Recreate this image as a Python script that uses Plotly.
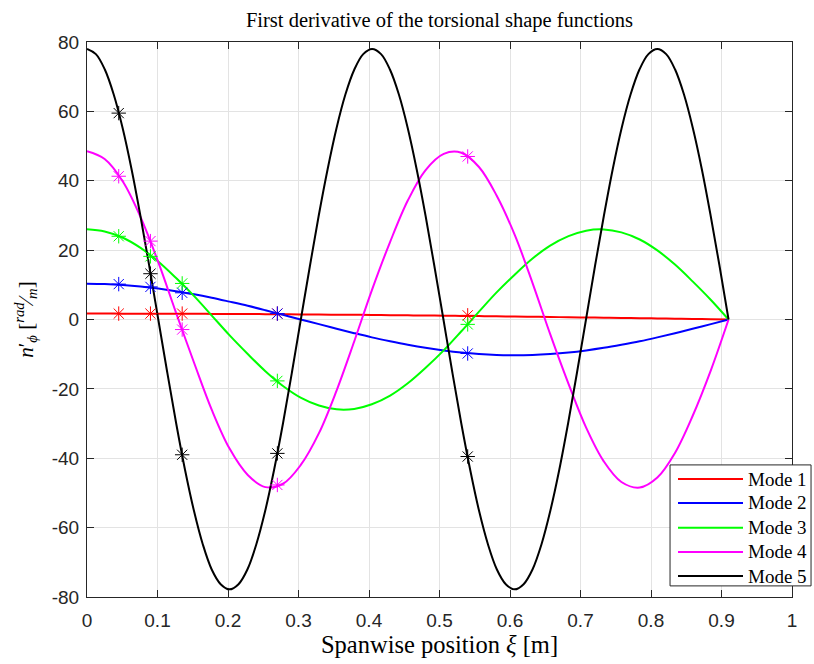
import plotly.graph_objects as go

# Spanwise positions (m) at which modes 1-4 were read
xi = [0, 0.025, 0.051, 0.076, 0.101, 0.126, 0.152, 0.177, 0.202, 0.228, 0.253, 0.278,
      0.303, 0.329, 0.354, 0.379, 0.404, 0.430, 0.455, 0.480, 0.506, 0.531, 0.556, 0.581,
      0.607, 0.632, 0.657, 0.683, 0.708, 0.733, 0.758, 0.784, 0.809, 0.834, 0.859, 0.885, 0.910]

# Finer positions used for the fast-varying mode 5
xi5 = [0, 0.0126, 0.0253, 0.0379, 0.0506, 0.0632, 0.0758, 0.0885, 0.1011, 0.1138, 0.1264, 0.1390,
       0.1517, 0.1643, 0.1769, 0.1896, 0.2022, 0.2149, 0.2275, 0.2401, 0.2528, 0.2654, 0.2781, 0.2907,
       0.3033, 0.3160, 0.3286, 0.3413, 0.3539, 0.3665, 0.3792, 0.3918, 0.4044, 0.4171, 0.4297, 0.4424,
       0.4550, 0.4676, 0.4803, 0.4929, 0.5056, 0.5182, 0.5308, 0.5435, 0.5561, 0.5688, 0.5814, 0.5940,
       0.6067, 0.6193, 0.6319, 0.6446, 0.6572, 0.6699, 0.6825, 0.6951, 0.7078, 0.7204, 0.7331, 0.7457,
       0.7583, 0.7710, 0.7836, 0.7963, 0.8089, 0.8215, 0.8342, 0.8468, 0.8594, 0.8721, 0.8847, 0.8974,
       0.9100]

mode1 = [1.70, 1.70, 1.69, 1.69, 1.67, 1.66, 1.64, 1.62, 1.60, 1.57, 1.54, 1.51,
         1.47, 1.43, 1.39, 1.35, 1.30, 1.25, 1.20, 1.15, 1.09, 1.03, 0.98, 0.91,
         0.85, 0.78, 0.72, 0.65, 0.58, 0.51, 0.44, 0.37, 0.30, 0.22, 0.15, 0.07, 0.0]
mode2 = [10.30, 10.21, 9.95, 9.52, 8.92, 8.17, 7.28, 6.27, 5.15, 3.94, 2.67, 1.34,
         0.0, -1.34, -2.67, -3.94, -5.15, -6.27, -7.28, -8.17, -8.92, -9.52, -9.95, -10.21,
         -10.30, -10.21, -9.95, -9.52, -8.92, -8.17, -7.28, -6.27, -5.15, -3.94, -2.67, -1.34, 0.0]
mode3 = [26.0, 25.38, 23.56, 20.63, 16.71, 12.01, 6.73, 1.13, -4.51, -9.95, -14.91, -19.17,
         -22.52, -24.80, -25.90, -25.78, -24.43, -21.93, -18.38, -13.97, -8.89, -3.39, 2.27, 7.82,
         13.0, 17.57, 21.30, 24.02, 25.61, 25.98, 25.11, 23.06, 19.92, 15.83, 10.99, 5.63, 0.0]
mode4 = [48.5, 46.26, 39.73, 29.52, 16.59, 2.12, -12.55, -26.06, -37.15, -44.81, -48.32, -47.35,
         -42.0, -32.77, -20.50, -6.33, 8.42, 22.39, 34.29, 43.02, 47.76, 48.08, 43.96, 35.76,
         24.25, 10.50, -4.23, -18.56, -31.18, -40.90, -46.85, -48.45, -45.57, -38.48, -27.82, -14.58, 0.0]
mode5 = [78.0, 76.5, 72.06, 64.85, 55.15, 43.33, 29.85, 15.22, 0.0, -15.22, -29.85, -43.33,
         -55.15, -64.85, -72.06, -76.3, -77.8, -76.3, -72.06, -64.85, -55.15, -43.33, -29.85, -15.22,
         0.0, 15.22, 29.85, 43.33, 55.15, 64.85, 72.06, 76.5, 78.0, 76.5, 72.06, 64.85,
         55.15, 43.33, 29.85, 15.22, 0.0, -15.22, -29.85, -43.33, -55.15, -64.85, -72.06, -76.3,
         -77.8, -76.3, -72.06, -64.85, -55.15, -43.33, -29.85, -15.22, 0.0, 15.22, 29.85, 43.33,
         55.15, 64.85, 72.06, 76.5, 78.0, 76.5, 72.06, 64.85, 55.15, 43.33, 29.85, 15.22,
         0.0]

# Measurement points (asterisks)
xi_pts = [0.045, 0.09, 0.135, 0.27, 0.54]
pts1 = [1.7, 1.7, 1.7, 1.7, 1.2]
pts2 = [10.2, 9.4, 7.7, 1.7, -9.8]
pts3 = [24.0, 18.2, 10.4, -17.7, -1.4]
pts4 = [41.3, 22.6, -2.9, -47.7, 47.0]
pts5 = [59.5, 13.2, -39.0, -38.6, -39.5]

names = ["Mode 1", "Mode 2", "Mode 3", "Mode 4", "Mode 5"]
colors = ["#ff0000", "#0000ff", "#00ff00", "#ff00ff", "#000000"]
xs = [xi, xi, xi, xi, xi5]
curves = [mode1, mode2, mode3, mode4, mode5]
points = [pts1, pts2, pts3, pts4, pts5]

fig = go.Figure()
for name, col, xx, ys in zip(names, colors, xs, curves):
    fig.add_trace(go.Scatter(x=xx, y=ys, mode="lines", name=name, showlegend=False,
                             line=dict(color=col, width=2, shape="spline", smoothing=1.0)))
for name, col, ys in zip(names, colors, points):
    fig.add_trace(go.Scatter(x=xi_pts, y=ys, mode="markers", showlegend=False, name=name,
                             marker=dict(symbol="asterisk-open", size=12, color=col,
                                         line=dict(color=col, width=1))))

serif = "Liberation Serif, Times New Roman, serif"
sans = "Liberation Sans, Arial, Helvetica, sans-serif"
axcol = "#262626"

# Legend box (drawn in paper coordinates, bottom-right)
shapes = [dict(type="rect", xref="paper", yref="paper", x0=0.827, x1=1.027, y0=0.020, y1=0.238,
               line=dict(color=axcol, width=1), fillcolor="white", layer="above")]
annotations = []
row_y = [0.2126, 0.1694, 0.1250, 0.0811, 0.0378]
for name, col, ry in zip(names, colors, row_y):
    shapes.append(dict(type="line", xref="paper", yref="paper", x0=0.8383, x1=0.9305,
                       y0=ry, y1=ry, line=dict(color=col, width=2), layer="above"))
    annotations.append(dict(text=name, xref="paper", yref="paper", x=0.935, y=ry,
                            xanchor="left", yanchor="middle", showarrow=False,
                            font=dict(family=serif, size=19, color="black")))

fig.update_layout(
    width=814, height=664,
    margin=dict(l=87, r=22, t=42, b=67),
    paper_bgcolor="white", plot_bgcolor="white",
    title=dict(text="First derivative of the torsional shape functions",
               x=(87 + 792) / 2 / 814, xanchor="center", y=1 - 20 / 664, yanchor="middle",
               font=dict(family=serif, size=20.5, color="black")),
    showlegend=False,
    shapes=shapes, annotations=annotations,
)
fig.update_xaxes(range=[0, 1], tickmode="array", automargin=False,
                 tickvals=[0, 0.1, 0.2, 0.3, 0.4, 0.5, 0.6, 0.7, 0.8, 0.9, 1],
                 ticktext=["0", "0.1", "0.2", "0.3", "0.4", "0.5", "0.6", "0.7", "0.8", "0.9", "1"],
                 showgrid=True, gridcolor="#e3e3e3", gridwidth=1, zeroline=False,
                 showline=True, linecolor=axcol, linewidth=1, mirror="allticks",
                 ticks="inside", ticklen=7, tickcolor=axcol, ticklabelstandoff=6,
                 tickfont=dict(family=sans, size=19, color=axcol),
                 title=dict(text="Spanwise position <i>ξ</i> [m]",
                            font=dict(family=serif, size=24.5, color="black"), standoff=1))
fig.update_yaxes(range=[-80, 80], tickmode="array", automargin=False,
                 tickvals=[-80, -60, -40, -20, 0, 20, 40, 60, 80],
                 ticktext=["-80", "-60", "-40", "-20", "0", "20", "40", "60", "80"],
                 showgrid=True, gridcolor="#e3e3e3", gridwidth=1, zeroline=False,
                 showline=True, linecolor=axcol, linewidth=1, mirror="allticks",
                 ticks="inside", ticklen=7, tickcolor=axcol, ticklabelstandoff=3,
                 tickfont=dict(family=sans, size=19, color=axcol),
                 title=dict(text="<i>n</i>′<sub><i>ϕ</i></sub> [<sup><i>rad</i></sup>⁄<sub><i>m</i></sub>]",
                            font=dict(family=serif, size=21, color="black"), standoff=12))

fig.write_html("out.html", config={"displayModeBar": False},
               post_script="document.body.style.margin='0';document.body.style.overflow='hidden';")
